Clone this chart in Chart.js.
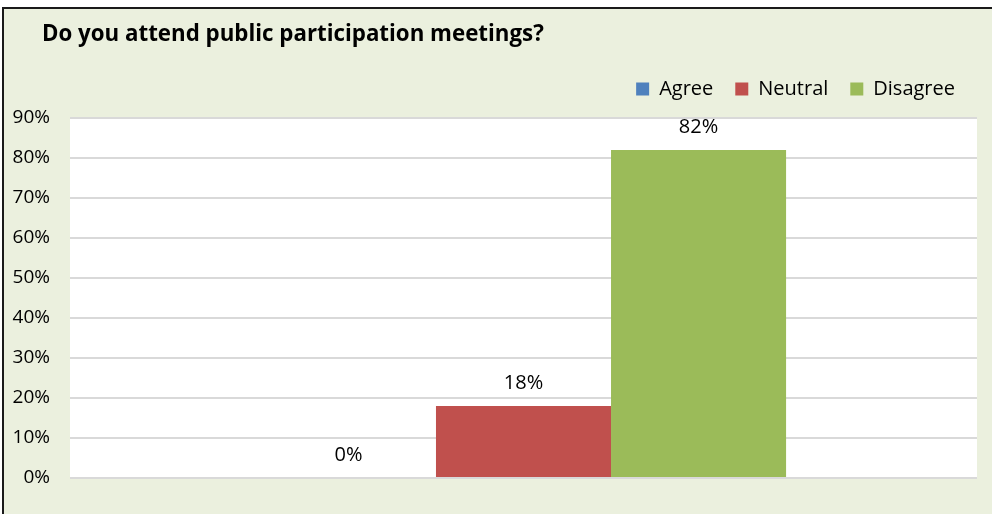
<!DOCTYPE html>
<html>
<head>
<meta charset="utf-8">
<script src="https://cdn.jsdelivr.net/npm/chart.js@4.4.1/dist/chart.umd.min.js"></script>
<style>
  html, body { margin: 0; padding: 0; background: #fff; }
  #wrap { width: 992px; height: 514px; }
</style>
</head>
<body>
<div id="wrap"><canvas id="chart" width="992" height="514"></canvas></div>
<script>
var chartTitle = "Do you attend public participation meetings?";
var categories = [""];
var seriesNames = ["Agree", "Neutral", "Disagree"];
var seriesValues = [[0], [18], [82]];
var seriesColors = ["#4F81BD", "#C0504D", "#9BBB59"];
var yTicks = [0, 10, 20, 30, 40, 50, 60, 70, 80, 90];

var FONT = "'Open Sans', Lato, sans-serif";

// panel background, border and heading
var panelPlugin = {
    id: "panel",
    beforeDraw: function(chart) {
        var ctx = chart.ctx;
        ctx.save();
        ctx.fillStyle = "#fff";
        ctx.fillRect(0, 0, chart.width, chart.height);
        ctx.fillStyle = "#EBF0DE";
        ctx.fillRect(4, 9, chart.width - 4, chart.height - 9);
        ctx.strokeStyle = "#1a1a1a";
        ctx.lineWidth = 2;
        ctx.beginPath();
        ctx.moveTo(3, chart.height);
        ctx.lineTo(3, 8);
        ctx.lineTo(chart.width, 8);
        ctx.stroke();
        var a = chart.chartArea;
        ctx.fillStyle = "#fff";
        ctx.fillRect(a.left, a.top, a.right - a.left, a.bottom - a.top);
        ctx.fillStyle = "#000";
        ctx.font = "bold 22.3px " + FONT;
        ctx.textBaseline = "middle";
        ctx.textAlign = "left";
        ctx.fillText(chartTitle, 42, 35);
        ctx.restore();
    }
};

// value labels above each bar
var valueLabels = {
    id: "valueLabels",
    afterDatasetsDraw: function(chart) {
        var ctx = chart.ctx;
        ctx.save();
        ctx.fillStyle = "#000";
        ctx.font = "20px " + FONT;
        ctx.textAlign = "center";
        ctx.textBaseline = "middle";
        chart.data.datasets.forEach(function(ds, i) {
            chart.getDatasetMeta(i).data.forEach(function(bar, j) {
                ctx.fillText(ds.data[j] + "%", bar.x, bar.y - 23);
            });
        });
        ctx.restore();
    }
};

var datasets = [];
for (var i = 0; i < seriesNames.length; i++) {
    datasets.push({
        label: seriesNames[i],
        data: seriesValues[i],
        backgroundColor: seriesColors[i],
        borderWidth: 0,
        barPercentage: 1,
        categoryPercentage: 0.579
    });
}

new Chart(document.getElementById("chart"), {
    type: "bar",
    data: { labels: categories, datasets: datasets },
    options: {
        responsive: false,
        animation: false,
        layout: { padding: { top: 57, left: 0, right: 15, bottom: 36 } },
        plugins: {
            legend: {
                position: "top",
                align: "end",
                labels: {
                    boxWidth: 13,
                    boxHeight: 13,
                    padding: 22,
                    color: "#000",
                    font: { family: FONT, size: 20 }
                }
            },
            tooltip: { enabled: false }
        },
        scales: {
            // category axis kept at the top, empty, as a spacer under the legend
            x: {
                position: "top",
                grid: { display: false },
                border: { display: false },
                ticks: { display: false },
                afterFit: function(scale) { scale.height = 9; }
            },
            y: {
                min: 0,
                max: 90,
                afterFit: function(scale) { scale.width = 70; },
                afterBuildTicks: function(scale) {
                    scale.ticks = yTicks.map(function(v) { return { value: v }; });
                },
                border: { display: false },
                grid: { color: "#D9D9D9", lineWidth: 2, drawTicks: false },
                ticks: {
                    padding: 20,
                    color: "#000",
                    font: { family: FONT, size: 19 },
                    callback: function(v) { return v + "%"; }
                }
            }
        }
    },
    plugins: [panelPlugin, valueLabels]
});
</script>
</body>
</html>
